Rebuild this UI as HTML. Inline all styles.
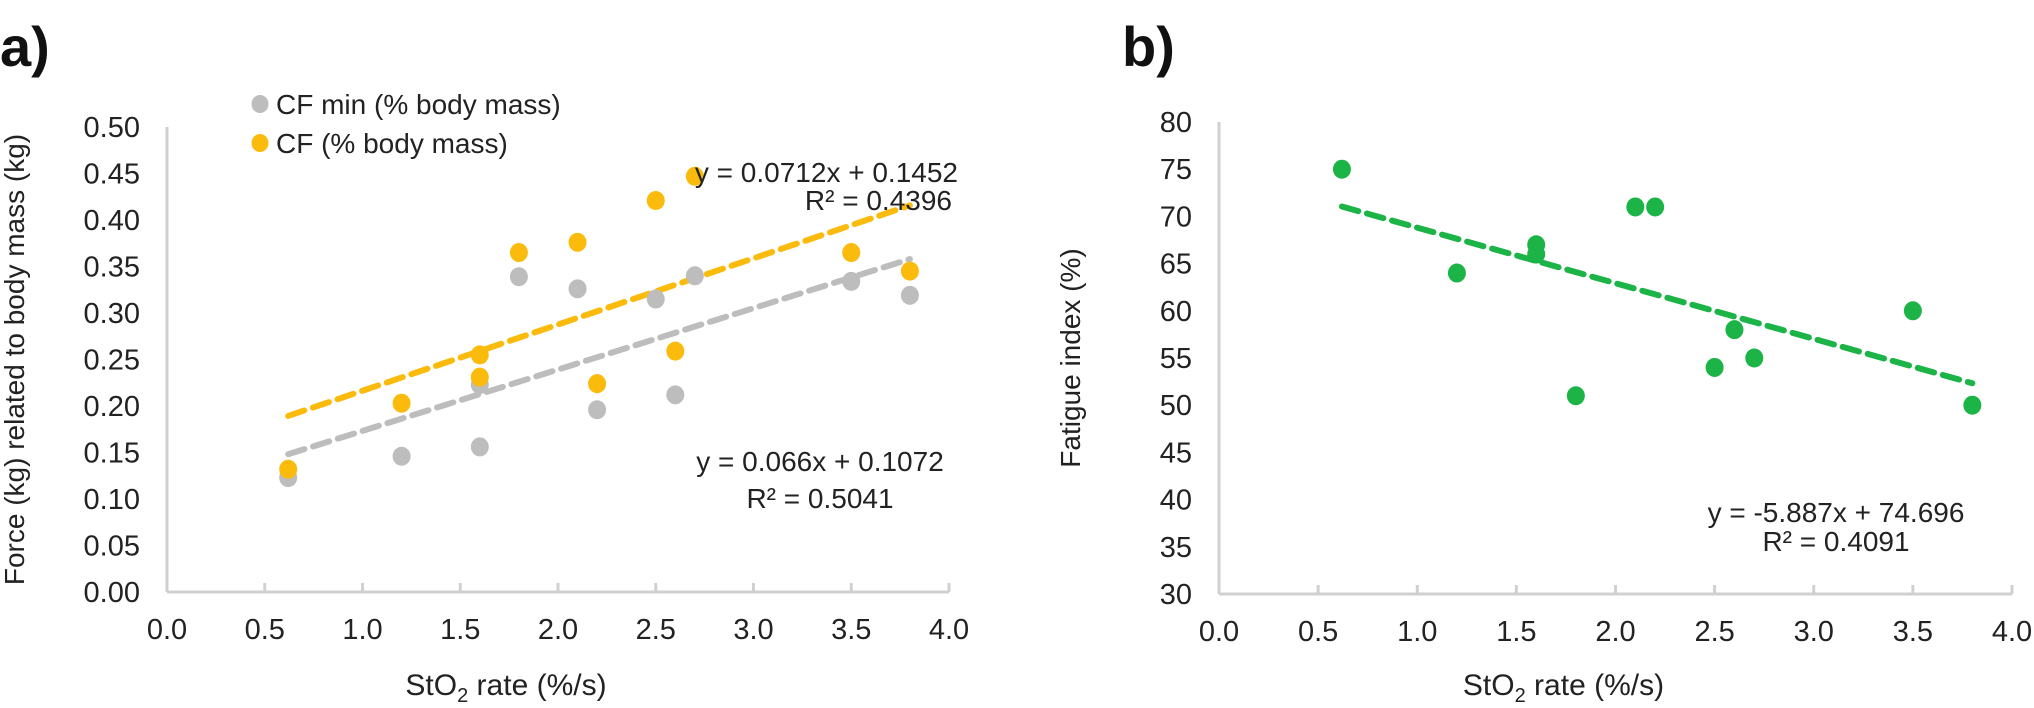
<!DOCTYPE html>
<html><head><meta charset="utf-8"><style>
html,body{margin:0;padding:0;background:#fff;overflow:hidden;}
svg{display:block;font-family:"Liberation Sans",Arial,sans-serif;}
</style></head><body>
<svg id="chart" width="2034" height="708" viewBox="0 0 2034 708">
<text x="0" y="66" font-size="56" font-weight="bold" fill="#111">a)</text>
<text x="1122" y="66" font-size="56" font-weight="bold" fill="#111">b)</text>
<g id="pa"></g>
<g id="pb"></g>
</svg>
<script>
const xsA = [0.62,1.2,1.6,1.6,1.8,2.1,2.2,2.5,2.6,2.7,3.5,3.8];
const cfMin = [0.123,0.146,0.156,0.223,0.339,0.326,0.196,0.315,0.212,0.340,0.334,0.319];
const cf = [0.132,0.203,0.255,0.231,0.365,0.376,0.224,0.421,0.259,0.447,0.365,0.345];
const xTicks = ["0.0","0.5","1.0","1.5","2.0","2.5","3.0","3.5","4.0"];
const yTicksA = ["0.00","0.05","0.10","0.15","0.20","0.25","0.30","0.35","0.40","0.45","0.50"];
const trendCf = [0.0712,0.1452];
const trendMin = [0.066,0.1072];
const xsB = [0.62,1.2,1.6,1.6,1.8,2.1,2.2,2.5,2.6,2.7,3.5,3.8];
const fatigue = [75,64,67,66,51,71,71,54,58,55,60,50];
const yTicksB = ["30","35","40","45","50","55","60","65","70","75","80"];
const trendB = [-5.887,74.696];

const NS="http://www.w3.org/2000/svg";
function mk(parent,tag,attrs,txt){const e=document.createElementNS(NS,tag);for(const k in attrs)e.setAttribute(k,attrs[k]);if(txt!==undefined)e.textContent=txt;parent.appendChild(e);return e;}
const FS=28;
function panel(g,o){
  const sx=v=>o.x0+(v-0)/4*(o.x1-o.x0);
  const sy=v=>o.yb+(v-o.ymin)/(o.ymax-o.ymin)*(o.yt-o.yb);
  let e=mk(g,'line',{x1:sx(0),x2:sx(0),y1:o.yt,y2:o.yb,stroke:'#d0d0d0','stroke-width':3});
  
  e=mk(g,'line',{x1:sx(0),x2:sx(4),y1:o.yb,y2:o.yb,stroke:'#d0d0d0','stroke-width':3});
  
  xTicks.forEach((t,i)=>{
    const v=parseFloat(t);
    if(i>0){const tk=mk(g,'line',{x1:sx(v),x2:sx(v),y1:o.yb,y2:o.yb-9,stroke:'#d0d0d0','stroke-width':3});
      }
    const l=mk(g,'text',{x:sx(v),y:o.yb+47,'text-anchor':'middle','font-size':29,fill:'#222'},t);
    
  });
  o.yTicks.forEach(t=>{
    const l=mk(g,'text',{x:sx(0)-27,y:sy(parseFloat(t))+10,'text-anchor':'end','font-size':29,fill:'#222'},t);
    
  });
  let t=mk(g,'text',{x:(sx(0)+sx(4))/2-52,y:695,'text-anchor':'middle','font-size':30,fill:'#222'});
  t.innerHTML='StO<tspan font-size="20" dy="7">2</tspan><tspan dy="-7"> rate (%/s)</tspan>';
  
  t=mk(g,'text',{x:0,y:0,'text-anchor':'middle','font-size':FS,fill:'#222',transform:`translate(${o.ytx},${(o.yt+o.yb)/2}) rotate(-90)`},o.ytitle);
  
  return {sx,sy};
}
function trend(g,s,coef,xa,xb,color,name){
  const l=mk(g,'line',{x1:s.sx(xa),y1:s.sy(coef[0]*xa+coef[1]),x2:s.sx(xb),y2:s.sy(coef[0]*xb+coef[1]),stroke:color,'stroke-width':6,'stroke-dasharray':'17 9','stroke-linecap':'round'});
  
}
function dots(g,s,xs,ys,color,name){
  xs.forEach((x,i)=>{const c=mk(g,'ellipse',{cx:s.sx(x),cy:s.sy(ys[i]),rx:9,ry:9.5,fill:color});
    });
}
function txt(g,x,y,s,anchor,name){const t=mk(g,'text',{x:x,y:y,'text-anchor':anchor,'font-size':FS,fill:'#222'},s);
  return t;}

const ga=document.getElementById('pa');
const sa=panel(ga,{x0:167,x1:949,yt:127,yb:592,ymin:0,ymax:0.5,yTicks:yTicksA,ytx:24,ytitle:'Force (kg) related to body mass (kg)'});
const GRAY='#bdbdbd',ORANGE='#fbbb0c',GREEN='#1db447';
trend(ga,sa,trendMin,0.62,3.8,GRAY,'trendline-cf-min');
trend(ga,sa,trendCf,0.62,3.8,ORANGE,'trendline-cf');
dots(ga,sa,xsA,cfMin,GRAY,'point-cf-min');
dots(ga,sa,xsA,cf,ORANGE,'point-cf');
let c=mk(ga,'ellipse',{cx:260,cy:104,rx:8.5,ry:9,fill:GRAY});
txt(ga,276,114,'CF min (% body mass)','start','legend-entry-cf-min');
c=mk(ga,'ellipse',{cx:260,cy:143,rx:8.5,ry:9,fill:ORANGE});
txt(ga,276,153,'CF (% body mass)','start','legend-entry-cf');
txt(ga,958,182,'y = 0.0712x + 0.1452','end','equation-cf');
txt(ga,952,210,'R² = 0.4396','end','r2-cf');
txt(ga,820,471,'y = 0.066x + 0.1072','middle','equation-cf-min');
txt(ga,820,508,'R² = 0.5041','middle','r2-cf-min');

const gb=document.getElementById('pb');
const sb=panel(gb,{x0:1219,x1:2012,yt:122,yb:594,ymin:30,ymax:80,yTicks:yTicksB,ytx:1080,ytitle:'Fatigue index (%)'});
trend(gb,sb,trendB,0.62,3.8,GREEN,'trendline-fatigue');
dots(gb,sb,xsB,fatigue,GREEN,'point-fatigue');
txt(gb,1836,522,'y = -5.887x + 74.696','middle','equation-fatigue');
txt(gb,1836,551,'R² = 0.4091','middle','r2-fatigue');
</script>
</body></html>
